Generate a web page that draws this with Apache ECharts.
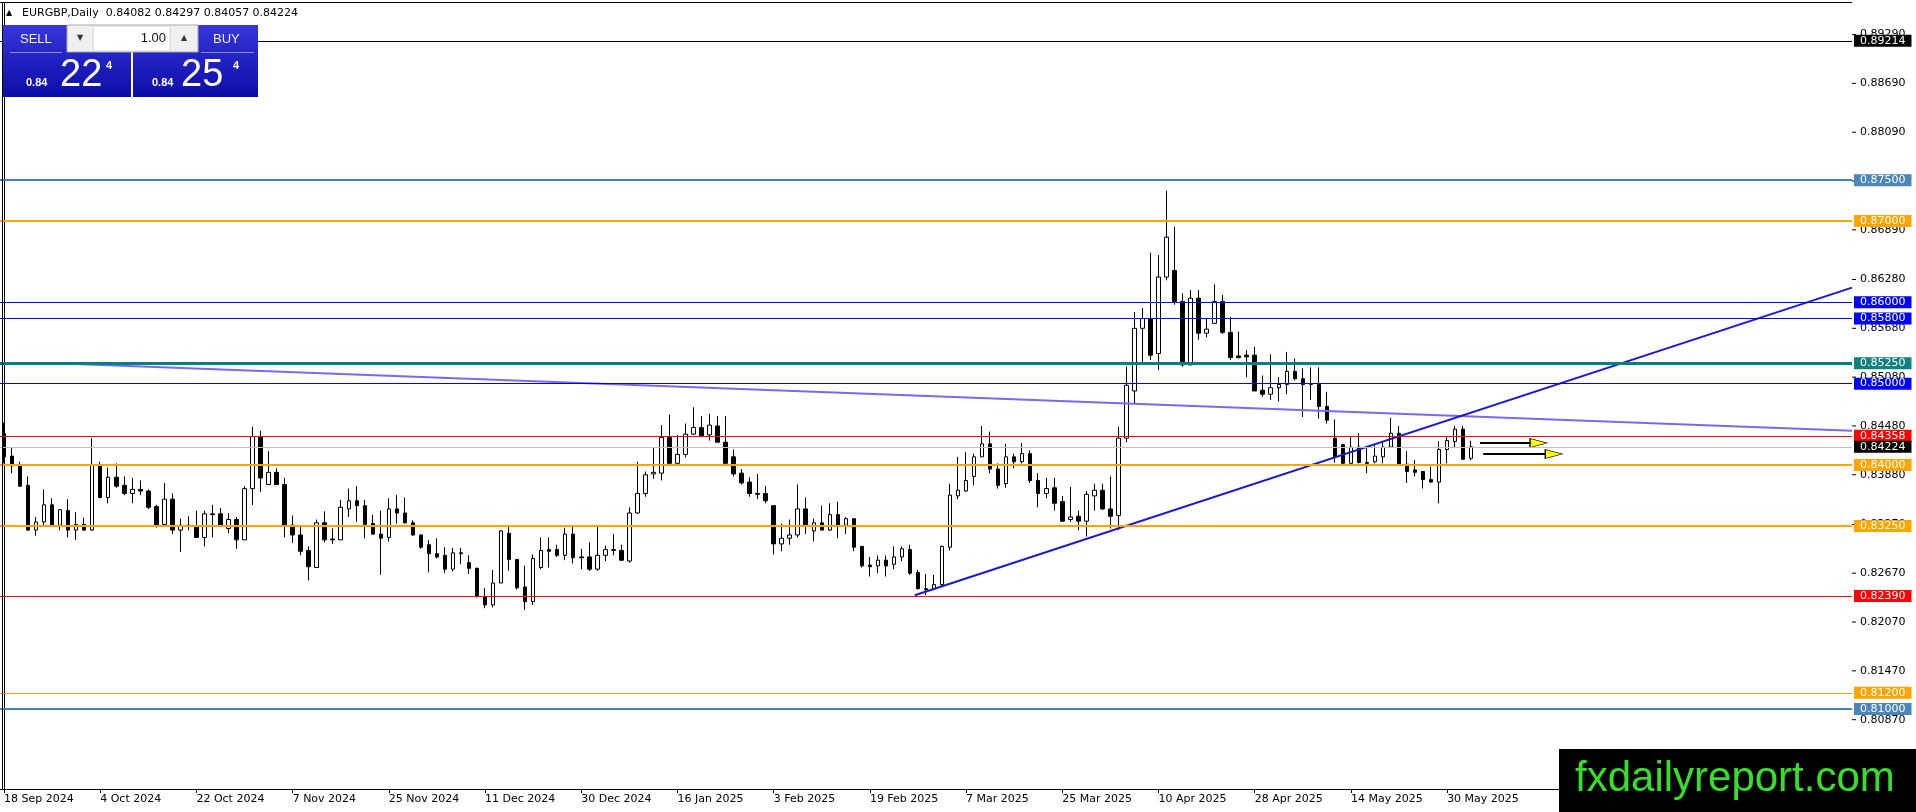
<!DOCTYPE html>
<html>
<head>
<meta charset="utf-8">
<title>EURGBP Daily</title>
<script src="https://cdn.jsdelivr.net/npm/echarts@6/dist/echarts.min.js"></script>
<style>
  html, body { margin: 0; padding: 0; background: #fff; }
  #chart { width: 1916px; height: 812px; }
</style>
</head>
<body>
<div id="chart"></div>
<script>
// daily candles (first bar = 18 Sep 2024)
const openPx = [
  0.8439,0.8411,0.8399,0.8375,0.8320,0.8330,0.8351,0.8326,0.8344,0.8320,
  0.8327,0.8320,0.8399,0.8360,0.8385,0.8375,0.8365,0.8370,0.8368,0.8349,
  0.8327,0.8358,0.8320,0.8325,0.8324,0.8311,0.8339,0.8340,0.8322,0.8333,
  0.8308,0.8371,0.8435,0.8376,0.8391,0.8376,0.8326,0.8314,0.8295,0.8274,
  0.8329,0.8308,0.8308,0.8346,0.8356,0.8350,0.8328,0.8315,0.8311,0.8346,
  0.8341,0.8329,0.8314,0.8302,0.8291,0.8289,0.8272,0.8292,0.8280,0.8273,
  0.8238,0.8228,0.8255,0.8316,0.8284,0.8250,0.8232,0.8274,0.8296,0.8296,
  0.8289,0.8315,0.8287,0.8287,0.8272,0.8289,0.8295,0.8295,0.8282,0.8341,
  0.8365,0.8389,0.8390,0.8434,0.8402,0.8413,0.8438,0.8446,0.8437,0.8448,
  0.8428,0.8410,0.8390,0.8379,0.8365,0.8365,0.8350,0.8303,0.8310,0.8314,
  0.8346,0.8319,0.8329,0.8320,0.8339,0.8326,0.8334,0.8300,0.8277,0.8276,
  0.8283,0.8278,0.8287,0.8296,0.8268,0.8248,0.8248,0.8253,0.8299,0.8362,
  0.8368,0.8386,0.8410,0.8426,0.8395,0.8377,0.8410,0.8404,0.8414,0.8381,
  0.8365,0.8372,0.8355,0.8333,0.8337,0.8331,0.8362,0.8369,0.8346,0.8338,
  0.8433,0.8491,0.8568,0.8579,0.8537,0.8631,0.8639,0.8601,0.8523,0.8605,
  0.8562,0.8574,0.8601,0.8563,0.8534,0.8535,0.8535,0.8492,0.8487,0.8495,
  0.8499,0.8515,0.8506,0.8499,0.8499,0.8472,0.8433,0.8425,0.8402,0.8422,
  0.8403,0.8404,0.8410,0.8422,0.8439,0.8401,0.8394,0.8392,0.8382,0.8379,
  0.8419,0.8429,0.8444,0.84082
];
const closePx = [
  0.8410,0.8399,0.8374,0.8320,0.8330,0.8351,0.8326,0.8345,0.8320,0.8327,
  0.8320,0.8400,0.8360,0.8385,0.8374,0.8365,0.8370,0.8368,0.8348,0.8326,
  0.8358,0.8320,0.8326,0.8326,0.8311,0.8340,0.8340,0.8326,0.8333,0.8308,
  0.8371,0.8435,0.8384,0.8391,0.8376,0.8326,0.8314,0.8294,0.8275,0.8329,
  0.8308,0.8309,0.8348,0.8356,0.8350,0.8327,0.8315,0.8310,0.8346,0.8341,
  0.8329,0.8314,0.8299,0.8291,0.8287,0.8272,0.8292,0.8291,0.8273,0.8239,
  0.8228,0.8255,0.8319,0.8284,0.8249,0.8232,0.8285,0.8295,0.8294,0.8289,
  0.8315,0.8286,0.8286,0.8272,0.8289,0.8296,0.8296,0.8283,0.8341,0.8365,
  0.8388,0.8391,0.8434,0.8402,0.8413,0.8438,0.8446,0.8436,0.8449,0.8428,
  0.8402,0.8389,0.8378,0.8365,0.8364,0.8356,0.8303,0.8310,0.8314,0.8346,
  0.8326,0.8329,0.8320,0.8339,0.8326,0.8334,0.8299,0.8276,0.8275,0.8283,
  0.8276,0.8287,0.8297,0.8267,0.8248,0.8247,0.8253,0.8300,0.8363,0.8369,
  0.8381,0.8410,0.8426,0.8395,0.8375,0.8410,0.8404,0.8414,0.8381,0.8365,
  0.8371,0.8353,0.8331,0.8336,0.8331,0.8364,0.8369,0.8346,0.8337,0.8433,
  0.8498,0.8568,0.8580,0.8535,0.8631,0.8680,0.8601,0.8523,0.8605,0.8562,
  0.8567,0.8601,0.8563,0.8532,0.8532,0.8533,0.8491,0.8487,0.8495,0.8499,
  0.8515,0.8506,0.8499,0.8500,0.8472,0.8455,0.8410,0.8402,0.8422,0.8403,
  0.8402,0.8411,0.8422,0.8439,0.8401,0.8392,0.8391,0.8382,0.8379,0.8419,
  0.8430,0.8444,0.8407,0.84224
];
const lowPx = [
  0.8402,0.8390,0.8373,0.8319,0.8313,0.8326,0.8325,0.8320,0.8311,0.8308,
  0.8319,0.8319,0.8359,0.8353,0.8372,0.8363,0.8353,0.8363,0.8346,0.8323,
  0.8326,0.8315,0.8293,0.8320,0.8311,0.8300,0.8311,0.8326,0.8316,0.8297,
  0.8308,0.8351,0.8367,0.8376,0.8376,0.8311,0.8304,0.8289,0.8258,0.8274,
  0.8305,0.8303,0.8308,0.8336,0.8330,0.8310,0.8315,0.8265,0.8306,0.8328,
  0.8328,0.8313,0.8297,0.8268,0.8285,0.8267,0.8269,0.8278,0.8266,0.8237,
  0.8224,0.8225,0.8255,0.8270,0.8247,0.8222,0.8228,0.8272,0.8274,0.8287,
  0.8283,0.8279,0.8272,0.8270,0.8270,0.8282,0.8289,0.8282,0.8280,0.8340,
  0.8361,0.8383,0.8381,0.8402,0.8402,0.8409,0.8437,0.8434,0.8430,0.8428,
  0.8402,0.8386,0.8376,0.8361,0.8358,0.8353,0.8290,0.8294,0.8302,0.8311,
  0.8315,0.8306,0.8320,0.8319,0.8310,0.8315,0.8294,0.8274,0.8263,0.8267,
  0.8263,0.8272,0.8282,0.8265,0.8247,0.8240,0.8246,0.8251,0.8295,0.8358,
  0.8367,0.8375,0.8410,0.8390,0.8371,0.8372,0.8396,0.8402,0.8378,0.8348,
  0.8359,0.8344,0.8330,0.8330,0.8320,0.8312,0.8344,0.8345,0.8322,0.8320,
  0.8428,0.8475,0.8526,0.8529,0.8517,0.8627,0.8597,0.8521,0.8523,0.8554,
  0.8557,0.8574,0.8561,0.8529,0.8531,0.8508,0.8491,0.8484,0.8480,0.8478,
  0.8487,0.8504,0.8459,0.8480,0.8457,0.8451,0.8403,0.8402,0.8402,0.8402,
  0.8390,0.8402,0.8402,0.8421,0.8401,0.8378,0.8386,0.8371,0.8378,0.8353,
  0.8402,0.8422,0.8407,0.84057
];
const highPx = [
  0.8452,0.8422,0.8404,0.8386,0.8336,0.8370,0.8359,0.8346,0.8358,0.8342,
  0.8335,0.8433,0.8404,0.8397,0.8402,0.8386,0.8384,0.8381,0.8370,0.8351,
  0.8378,0.8365,0.8334,0.8337,0.8344,0.8344,0.8351,0.8347,0.8341,0.8336,
  0.8374,0.8447,0.8442,0.8417,0.8396,0.8384,0.8338,0.8325,0.8300,0.8333,
  0.8343,0.8322,0.8357,0.8371,0.8374,0.8357,0.8339,0.8344,0.8359,0.8363,
  0.8360,0.8332,0.8315,0.8308,0.8310,0.8299,0.8298,0.8298,0.8289,0.8274,
  0.8249,0.8271,0.8320,0.8324,0.8284,0.8276,0.8290,0.8311,0.8311,0.8302,
  0.8323,0.8324,0.8297,0.8305,0.8324,0.8301,0.8315,0.8302,0.8348,0.8404,
  0.8392,0.8422,0.8449,0.8462,0.8437,0.8451,0.8471,0.8460,0.8463,0.8460,
  0.8460,0.8419,0.8395,0.8385,0.8389,0.8374,0.8350,0.8328,0.8333,0.8376,
  0.8360,0.8334,0.8350,0.8353,0.8355,0.8336,0.8334,0.8300,0.8287,0.8289,
  0.8289,0.8300,0.8300,0.8302,0.8271,0.8266,0.8265,0.8301,0.8377,0.8410,
  0.8416,0.8414,0.8448,0.8441,0.8402,0.8426,0.8414,0.8427,0.8418,0.8390,
  0.8384,0.8384,0.8362,0.8373,0.8344,0.8368,0.8377,0.8377,0.8386,0.8447,
  0.8521,0.8588,0.8593,0.8661,0.8658,0.8737,0.8693,0.8611,0.8615,0.8615,
  0.8580,0.8622,0.8609,0.8582,0.8564,0.8541,0.8545,0.8510,0.8536,0.8508,
  0.8539,0.8531,0.8519,0.8520,0.8520,0.8490,0.8456,0.8426,0.8435,0.8439,
  0.8423,0.8424,0.8429,0.8458,0.8448,0.8417,0.8406,0.8392,0.8398,0.8429,
  0.8435,0.8448,0.8448,0.84297
];

const firstDay = '2024-09-18';
const closedDays = ['2024-12-25', '2025-01-01'];
const slotCount = 231; // bars + empty shift on the right

// price scale labels as shown on the right axis
const priceTicks = [0.89290, 0.88690, 0.88090, 0.87490, 0.86890, 0.86280, 0.85680,
  0.85080, 0.84480, 0.83880, 0.83270, 0.82670, 0.82070, 0.81470, 0.80870];

// horizontal levels with their tags
const levelPrices = [0.89214, 0.87500, 0.87000, 0.86000, 0.85800, 0.85250, 0.85000,
  0.84358, 0.84224, 0.84000, 0.83250, 0.82390, 0.81200, 0.81000];
const levelLineColor = ['#000000', '#4682b4', '#ffa500', '#0000dd', '#0000dd', '#008080', '#0000dd',
  '#e01010', '#c0c0c0', '#ffa500', '#ffa500', '#e01010', '#ffa500', '#4682b4'];
const levelTagColor = ['#000000', '#4a86b8', '#ffa500', '#0000ff', '#0000ff', '#108080', '#0000ff',
  '#ff0000', '#000000', '#ffa500', '#ffa500', '#ff0000', '#ffa500', '#4a86b8'];
const levelWidth = [1, 2, 2, 1, 1, 3, 1, 1, 1, 2, 2, 1, 1, 2];

// drawn objects, x in bar units
const upTrend = [[113.6, 0.8240], [230.5, 0.8618]];
const downTrend = [[6.4, 0.8525], [230.5, 0.8442]];
const arrowShafts = [
  [[184.1, 0.8427], [190.4, 0.8427]],
  [[184.5, 0.84135], [192.3, 0.84135]]
];
const arrowHeads = [[191.4, 0.8427], [193.3, 0.84135]];

const monthNames = ['Jan', 'Feb', 'Mar', 'Apr', 'May', 'Jun', 'Jul', 'Aug', 'Sep', 'Oct', 'Nov', 'Dec'];

function tradingDays(first, count, skip) {
  let out = [];
  let d = new Date(first + 'T00:00:00Z');
  while (out.length < count) {
    let iso = d.toISOString().slice(0, 10);
    let wd = d.getUTCDay();
    if (wd !== 0 && wd !== 6 && skip.indexOf(iso) < 0) {
      out.push(d.getUTCDate() + ' ' + monthNames[d.getUTCMonth()] + ' ' + d.getUTCFullYear());
    }
    d.setUTCDate(d.getUTCDate() + 1);
  }
  return out;
}

const dateLabels = tradingDays(firstDay, openPx.length, closedDays);
const slots = [];
for (let i = 0; i < slotCount; i++) slots.push(String(i));

const candles = openPx.map((o, i) => [o, closePx[i], lowPx[i], highPx[i]]);

const showDate = (idx) => idx % 12 === 0 && idx < dateLabels.length;
const axisFont = { fontFamily: 'DejaVu Sans', fontSize: 11, color: '#000' };

const levelLines = levelPrices.map((p, i) => ({
  yAxis: p,
  lineStyle: { color: levelLineColor[i], width: levelWidth[i], type: 'solid' },
  label: {
    show: true,
    position: 'end',
    distance: 2,
    formatter: () => p.toFixed(5),
    backgroundColor: levelTagColor[i],
    color: '#fff',
    fontFamily: 'DejaVu Sans',
    fontSize: 11,
    lineHeight: 12,
    padding: [0, 6, 0, 6]
  }
}));

function blueFill(top, bottom) {
  return new echarts.graphic.LinearGradient(0, 0, 0, 1, [
    { offset: 0, color: top },
    { offset: 1, color: bottom }
  ]);
}

function txt(x, y, text, font, fill, align) {
  return {
    type: 'text', x: x, y: y, z: 60,
    style: { text: text, font: font, fill: fill, align: align || 'left', verticalAlign: 'middle' }
  };
}

let chart = echarts.init(document.getElementById('chart'));

chart.setOption({
  animation: false,
  backgroundColor: '#ffffff',
  grid: { left: 0, right: 64, top: 3, bottom: 23, containLabel: false },
  xAxis: [{
    type: 'category',
    data: slots,
    boundaryGap: true,
    axisLine: { lineStyle: { color: '#000', width: 1 } },
    axisTick: { show: true, alignWithLabel: true, interval: showDate, length: 4, lineStyle: { color: '#000' } },
    axisLabel: Object.assign({
      interval: showDate,
      formatter: (v, idx) => dateLabels[idx] || '',
      align: 'left',
      margin: 5
    }, axisFont),
    splitLine: { show: false }
  }, {
    type: 'value',
    min: -0.5,
    max: slotCount - 0.5,
    show: false
  }],
  yAxis: {
    type: 'value',
    position: 'right',
    min: 0.80018,
    max: 0.89678,
    splitLine: { show: false },
    axisLine: { show: true, lineStyle: { color: '#000', width: 1 } },
    axisTick: { show: false },
    axisLabel: {
      customValues: priceTicks,
      formatter: (v) => '{tk|}{v|' + v.toFixed(5) + '}',
      margin: 0,
      rich: {
        tk: { width: 4, height: 1, backgroundColor: '#000' },
        v: { fontFamily: 'DejaVu Sans', fontSize: 11, color: '#000', padding: [0, 0, 0, 4] }
      }
    }
  },
  series: [{
    type: 'candlestick',
    xAxisIndex: 0,
    data: candles,
    barWidth: 4,
    itemStyle: { color: '#ffffff', color0: '#000000', borderColor: '#000000', borderColor0: '#000000', borderWidth: 1 },
    emphasis: { disabled: true }
  }, {
    type: 'line',
    xAxisIndex: 1,
    data: downTrend,
    symbol: 'none',
    lineStyle: { color: '#7b68ee', width: 2 },
    silent: true,
    markLine: { symbol: 'none', silent: true, animation: false, precision: 5, data: levelLines }
  }, {
    type: 'line',
    xAxisIndex: 1,
    data: upTrend,
    symbol: 'none',
    lineStyle: { color: '#1a1acc', width: 2 },
    silent: true
  }, {
    type: 'line',
    xAxisIndex: 1,
    data: arrowShafts[0],
    symbol: 'none',
    lineStyle: { color: '#000', width: 2 },
    silent: true
  }, {
    type: 'line',
    xAxisIndex: 1,
    data: arrowShafts[1],
    symbol: 'none',
    lineStyle: { color: '#000', width: 2 },
    silent: true
  }, {
    type: 'scatter',
    xAxisIndex: 1,
    data: arrowHeads,
    symbol: 'triangle',
    symbolRotate: -90,
    symbolSize: [9, 17],
    itemStyle: { color: '#ffff00', borderColor: '#000', borderWidth: 1, opacity: 1 },
    silent: true
  }],
  graphic: [
    // frame top / left
    { type: 'line', z: 55, shape: { x1: 0, y1: 2.5, x2: 1852, y2: 2.5 }, style: { stroke: '#000', lineWidth: 1 } },
    { type: 'line', z: 55, shape: { x1: 2.5, y1: 2.5, x2: 2.5, y2: 789 }, style: { stroke: '#000', lineWidth: 1 } },

    // header line
    txt(6, 13, '▲', '8px "DejaVu Sans"', '#000'),
    txt(22, 13, 'EURGBP,Daily  0.84082 0.84297 0.84057 0.84224', '11px "DejaVu Sans"', '#000'),

    // one click trading panel
    { type: 'rect', z: 58, shape: { x: 3, y: 25, width: 128, height: 72 }, style: { fill: blueFill('#3636dc', '#0c0ca6') } },
    { type: 'rect', z: 58, shape: { x: 133, y: 25, width: 125, height: 72 }, style: { fill: blueFill('#3636dc', '#0c0ca6') } },
    { type: 'rect', z: 59, shape: { x: 67, y: 25, width: 131, height: 27 }, style: { fill: '#f0f0f0', stroke: '#a8a8a8', lineWidth: 1 } },
    { type: 'rect', z: 59, shape: { x: 93, y: 26, width: 77, height: 25 }, style: { fill: '#ffffff', stroke: '#d0d0d0', lineWidth: 1 } },
    { type: 'line', z: 59, shape: { x1: 10, y1: 52.5, x2: 62, y2: 52.5 }, style: { stroke: '#8c8cf5', lineWidth: 1 } },
    { type: 'line', z: 59, shape: { x1: 201, y1: 52.5, x2: 254, y2: 52.5 }, style: { stroke: '#8c8cf5', lineWidth: 1 } },
    txt(80, 38, '▼', '8px "DejaVu Sans"', '#333', 'center'),
    txt(184, 38, '▲', '8px "DejaVu Sans"', '#333', 'center'),
    txt(166, 38, '1.00', '13px "Liberation Sans"', '#111', 'right'),
    txt(20, 39, 'SELL', '13px "Liberation Sans"', '#eef0ff'),
    txt(213, 39, 'BUY', '13px "Liberation Sans"', '#eef0ff'),
    txt(26, 83, '0.84', 'bold 11px "Liberation Sans"', '#fff'),
    txt(60, 76, '22', '38px "Liberation Sans"', '#fff'),
    txt(106, 66, '4', 'bold 11px "Liberation Sans"', '#fff'),
    txt(152, 83, '0.84', 'bold 11px "Liberation Sans"', '#fff'),
    txt(181, 76, '25', '38px "Liberation Sans"', '#fff'),
    txt(233, 66, '4', 'bold 11px "Liberation Sans"', '#fff'),

    // watermark
    { type: 'rect', z: 70, shape: { x: 1559, y: 749, width: 357, height: 63 }, style: { fill: '#000' } },
    { type: 'text', z: 71, x: 1575, y: 779, style: { text: 'fxdailyreport.com', font: '42px "Liberation Sans"', fill: '#36e02a', align: 'left', verticalAlign: 'middle' } }
  ]
});
</script>
</body>
</html>
